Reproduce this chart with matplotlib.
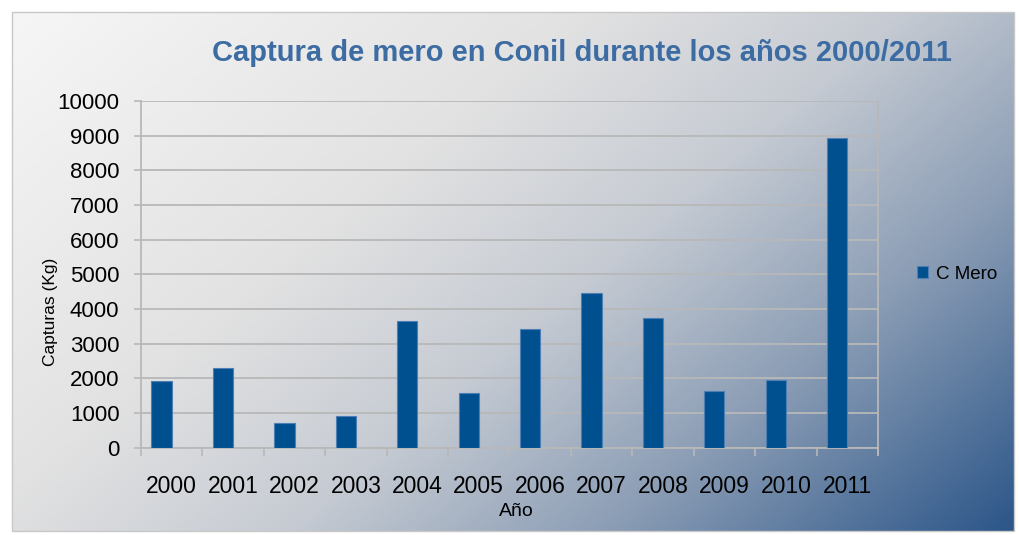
import numpy as np
import matplotlib
matplotlib.use("Agg")
import matplotlib.pyplot as plt
from matplotlib.colors import LinearSegmentedColormap
from matplotlib.patches import Rectangle

plt.rcParams['font.family'] = ['Liberation Sans', 'DejaVu Sans']

years = ['2000', '2001', '2002', '2003', '2004', '2005',
         '2006', '2007', '2008', '2009', '2010', '2011']
capturas = [1930, 2280, 720, 910, 3650, 1580, 3430, 4450, 3750, 1620, 1940, 8930]
series_name = 'C Mero'
title = 'Captura de mero en Conil durante los años 2000/2011'
xlabel = 'Año'
ylabel = 'Capturas (Kg)'
yticks = list(range(0, 10001, 1000))

W, H = 1019, 535
fig = plt.figure(figsize=(W / 100, H / 100), dpi=100)
fig.patch.set_facecolor('white')

# gradient background box
bx0, by0, bx1, by1 = 12, 12, 1014, 531
bg = fig.add_axes([bx0 / W, 1 - by1 / H, (bx1 - bx0) / W, (by1 - by0) / H], zorder=0)
nx, ny = 400, 220
gx = np.linspace(0, 1, nx)[None, :]
gy = np.linspace(0, 1, ny)[:, None]
t = (gx * 0.62 + gy * 0.38)
cmap = LinearSegmentedColormap.from_list('bg', [
    (0.0, '#f6f6f6'), (0.35, '#e2e2e2'), (0.55, '#c6cbd3'),
    (0.75, '#8b9db5'), (1.0, '#2c5689')])
bg.imshow(t, cmap=cmap, vmin=0, vmax=1, aspect='auto', extent=[0, 1, 0, 1], origin='upper')
bg.set_axis_off()
fig.add_artist(Rectangle((bx0 / W, 1 - by1 / H), (bx1 - bx0) / W, (by1 - by0) / H,
                         transform=fig.transFigure, fill=False, edgecolor='#c8c8c8', lw=1, zorder=1))

ax = fig.add_axes([141 / W, 1 - 447.5 / H, (878 - 141) / W, (447.5 - 101) / H], zorder=2)
ax.patch.set_alpha(0)
x = np.arange(len(years))
bars = ax.bar(x - 0.165, capturas, width=0.33, color='#00508f', edgecolor='#4d7fb5',
              linewidth=0.8, label=series_name, zorder=3)
ax.set_xlim(-0.5, len(years) - 0.5)
ax.set_ylim(0, 10000)
ax.set_yticks(yticks)
ax.set_yticklabels([str(v) for v in yticks], fontsize=16)
ax.set_xticks(x)
ax.set_xticklabels(years, fontsize=16.5)
ax.set_xticks(np.arange(-0.5, len(years), 1), minor=True)
ax.tick_params(axis='x', which='major', length=0, pad=20)
ax.tick_params(axis='x', which='minor', length=6, width=1.2, color='#b8b8b8', direction='out')
ax.tick_params(axis='y', length=5, width=1.2, color='#b8b8b8', pad=10.5)
ax.yaxis.grid(True, color='#b8b8b8', lw=1.3, zorder=1)
for s in ['top', 'right']:
    ax.spines[s].set_visible(False)
for s in ['left', 'bottom']:
    ax.spines[s].set_color('#b8b8b8')
    ax.spines[s].set_linewidth(1.3)
ax.axvline(len(years) - 0.5, color='#b8b8b8', lw=1.3, ymin=-0.022, clip_on=False)

fig.text(582 / W, 1 - 53 / H, title, ha='center', va='center', fontsize=21,
         fontweight='bold', color='#3d6ca3')
fig.text(516 / W, 1 - 512 / H, xlabel, ha='center', va='center', fontsize=14)
fig.text(50 / W, 1 - 312 / H, ylabel, ha='center', va='center', fontsize=12.5, rotation=90)

leg = ax.legend(loc='center left', bbox_to_anchor=(1.03, 0.5), frameon=False,
                fontsize=13.5, handlelength=0.6, handleheight=0.6, handletextpad=0.4)

fig.savefig('out.png', dpi=100)
